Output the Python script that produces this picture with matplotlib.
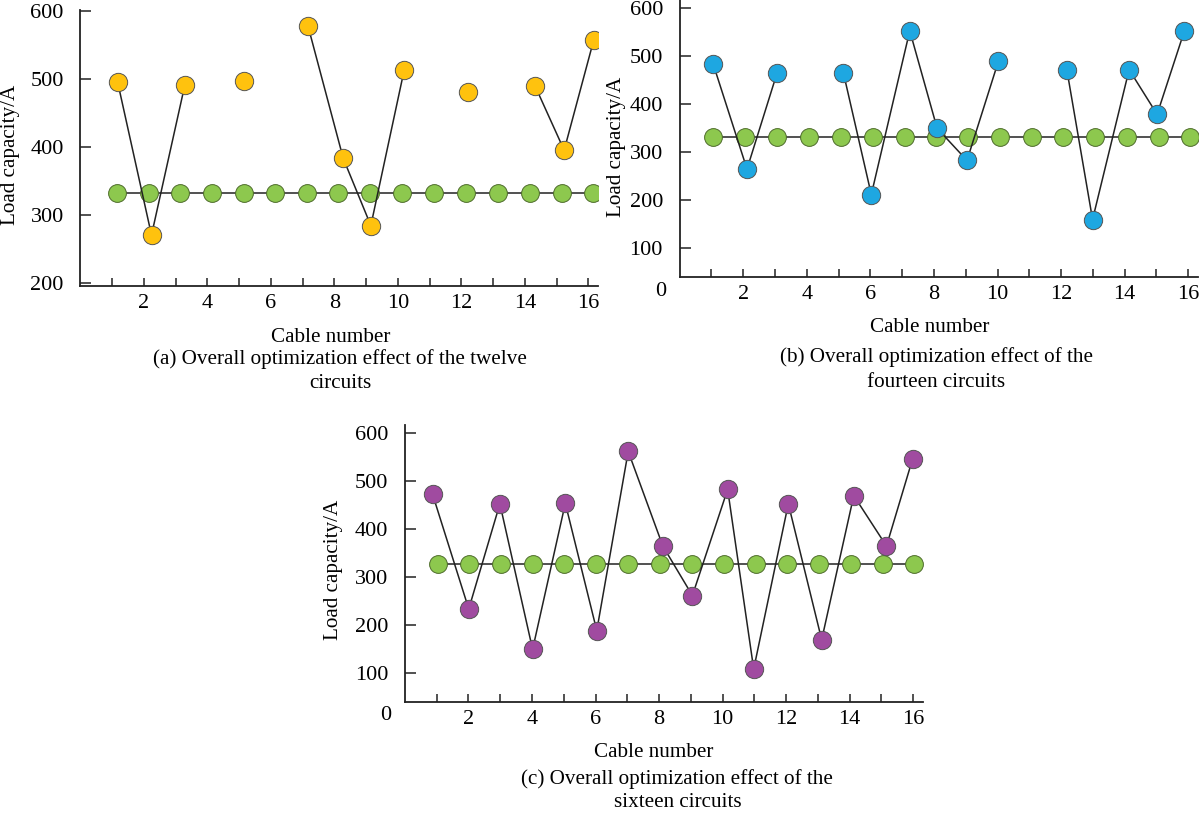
import matplotlib.pyplot as plt
import numpy as np

nan = np.nan

# panel (a): twelve circuits
x_a = [1.17, 2.24, 3.29, 4, 5.14, 6, 7.17, 8.28, 9.15, 10.2, 11, 12.2, 13, 14.32, 15.24, 16.17]
y_a = [496, 270, 491, nan, 497, nan, 578, 383, 284, 513, nan, 481, nan, 490, 395, 557]
gx_a = [1.15, 2.15, 3.14, 4.14, 5.15, 6.14, 7.14, 8.13, 9.13, 10.14, 11.15, 12.15, 13.16, 14.16, 15.16, 16.15]
gy_a = [332] * 16

# panel (b): fourteen circuits
x_b = [1.06, 2.12, 3.07, 4, 5.15, 6.03, 7.24, 8.1, 9.04, 10.03, 11, 12.18, 12.99, 14.14, 15.02, 15.88]
y_b = [483, 265, 466, nan, 466, 212, 553, 350, 283, 490, nan, 472, 160, 472, 379, 553]
gx_b = [1.06, 2.06, 3.06, 4.06, 5.07, 6.07, 7.08, 8.08, 9.07, 10.07, 11.07, 12.07, 13.07, 14.08, 15.07, 16.06]
gy_b = [332] * 16

# panel (c): sixteen circuits
x_c = [0.87, 2.01, 2.99, 4.02, 5.05, 6.04, 7.03, 8.12, 9.05, 10.16, 10.98, 12.07, 13.12, 14.13, 15.16, 15.98]
y_c = [472, 233, 452, 149, 453, 188, 561, 364, 261, 482, 108, 452, 169, 469, 364, 545]
gx_c = [1.03, 2.01, 3.03, 4.03, 5.02, 6.03, 7.02, 8.03, 9.03, 10.03, 11.05, 12.04, 13.03, 14.04, 15.05, 16.04]
gy_c = [327] * 16

xticks = list(range(1, 17))
xticklabels = [str(t) if t % 2 == 0 else '' for t in xticks]

plt.rcParams['font.family'] = ['Liberation Serif', 'DejaVu Serif']
FS_TICK = 16
FS = 15.2
W, H = 1200, 813
fig = plt.figure(figsize=(W / 100, H / 100), dpi=100)


def px(x, y):
    return x / W, 1 - y / H


def panel(rect, xs, ys, gxs, gys, color, ylim, yticks):
    ax = fig.add_axes(rect)
    ax.plot(gxs, gys, '-', color='#333333', lw=1.2, zorder=2,
            marker='o', ms=12.8, mfc='#8DC84E', mec='#4d6b2a', mew=0.7)
    ax.plot(xs, ys, '-', color='#222222', lw=1.1, zorder=3)
    ax.plot(xs, ys, 'o', ms=13.2, mfc=color, mec='#555555', mew=0.7, zorder=4)
    ax.set_xlim(0, 16.3)
    ax.set_ylim(*ylim)
    ax.set_xticks(xticks)
    ax.set_xticklabels(xticklabels)
    ax.set_yticks(yticks)
    for s in ['top', 'right']:
        ax.spines[s].set_visible(False)
    for s in ['left', 'bottom']:
        ax.spines[s].set_linewidth(1.3)
        ax.spines[s].set_color('#222222')
    ax.tick_params(axis='x', direction='in', length=6, width=1.1, pad=6,
                   labelsize=FS_TICK, color='#222222')
    ax.tick_params(axis='y', direction='in', length=8, width=1.1, pad=12,
                   labelsize=FS_TICK, color='#222222')
    return ax


panel([80.4 / W, 1 - 286 / H, 517.4 / W, 276 / H], x_a, y_a, gx_a, gy_a,
      '#FFC20E', (195, 601.5), [200, 300, 400, 500, 600])
panel([679.6 / W, 1 - 276.7 / H, 518.2 / W, 276.7 / H], x_b, y_b, gx_b, gy_b,
      '#1EA7E1', (41, 617), [100, 200, 300, 400, 500, 600])
panel([404.9 / W, 1 - 701.7 / H, 517.8 / W, 276.7 / H], x_c, y_c, gx_c, gy_c,
      '#A04BA0', (40, 616), [100, 200, 300, 400, 500, 600])

# axis labels and captions
texts = [
    (331, 338, 'Cable number'),
    (340, 359, '(a) Overall optimization effect of the twelve'),
    (340, 383, 'circuits'),
    (930, 328, 'Cable number'),
    (936, 357, '(b) Overall optimization effect of the'),
    (936, 382, 'fourteen circuits'),
    (654, 752, 'Cable number'),
    (677, 779, '(c) Overall optimization effect of the'),
    (678, 802, 'sixteen circuits'),
]
for x, y, s in texts:
    fig.text(*px(x, y), s, ha='center', va='center', fontsize=FS)

for x, y in [(661, 291), (386, 715)]:
    fig.text(*px(x, y), '0', ha='center', va='center', fontsize=FS_TICK)

for x, y in [(11, 155), (617, 147), (333, 570)]:
    fig.text(*px(x, y), 'Load capacity/A', ha='center', va='center',
             rotation=90, fontsize=FS)

fig.savefig('out.png', dpi=100)
